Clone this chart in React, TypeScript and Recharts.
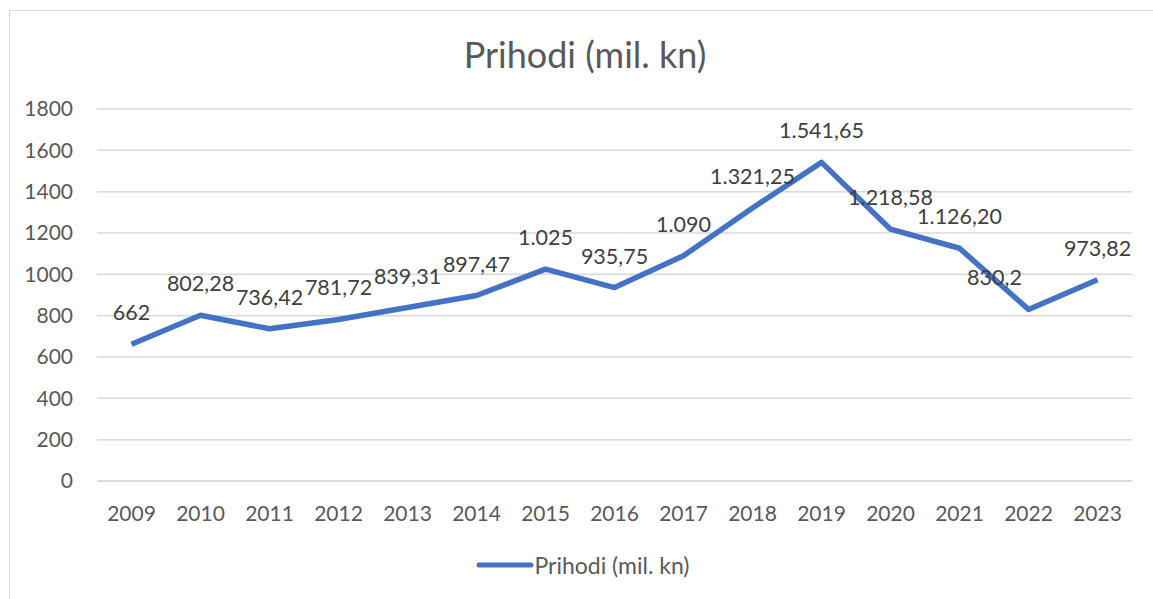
import { LineChart, Line, XAxis, YAxis, CartesianGrid, Legend } from 'recharts'

const years = ['2009', '2010', '2011', '2012', '2013', '2014', '2015', '2016', '2017', '2018', '2019', '2020', '2021', '2022', '2023']
const prihodi = [662, 802.28, 736.42, 781.72, 839.31, 897.47, 1025, 935.75, 1090, 1321.25, 1541.65, 1218.58, 1126.2, 830.2, 973.82]
const labels = ['662', '802,28', '736,42', '781,72', '839,31', '897,47', '1.025', '935,75', '1.090', '1.321,25', '1.541,65', '1.218,58', '1.126,20', '830,2', '973,82']
const yTicks = [0, 200, 400, 600, 800, 1000, 1200, 1400, 1600, 1800]

const data = years.map((g, i) => ({ godina: g, prihodi: prihodi[i] }))

const font = 'Lato, "Open Sans", sans-serif'
const blue = '#4472C4'

function PointLabel(props: any) {
  const { x, y, index } = props
  // Excel pushed the 2022 label to the left of its point
  const dx = index === 13 ? -34 : 0
  return (
    <text x={x + dx} y={y - 24} textAnchor="middle" fill="#404040" fontSize={21.5} fontFamily={font}>
      {labels[index]}
    </text>
  )
}

function LegendBox() {
  return (
    <div style={{ display: 'flex', justifyContent: 'center', alignItems: 'center', fontFamily: font, fontSize: 23, color: '#595959', marginLeft: 34 }}>
      <svg width={58} height={10}>
        <line x1={3} y1={5} x2={55} y2={5} stroke={blue} strokeWidth={5} strokeLinecap="round" />
      </svg>
      <span>Prihodi (mil. kn)</span>
    </div>
  )
}

export default function App() {
  return (
    <div style={{ position: 'fixed', left: 0, top: 0, width: 1153, height: 599, overflow: 'hidden', background: '#fff' }}>
      <div style={{ position: 'absolute', left: 9, top: 10, width: 1160, height: 620, border: '1.5px solid #d9d9d9', boxSizing: 'border-box' }} />
      <div style={{ position: 'absolute', left: 0, top: 32, width: 1170, textAlign: 'center', fontFamily: font, fontSize: 36, color: '#595959' }}>
        Prihodi (mil. kn)
      </div>
      <div style={{ position: 'absolute', left: 0, top: 0 }}>
        <LineChart width={1153} height={599} data={data} margin={{ top: 109, right: 21, left: 0, bottom: 0 }}>
          <CartesianGrid vertical={false} stroke="#d9d9d9" strokeWidth={1.5} />
          <XAxis
            dataKey="godina"
            padding={{ left: 34.5, right: 34.5 }}
            axisLine={{ stroke: '#d9d9d9', strokeWidth: 1.5 }}
            tickLine={false}
            tickMargin={19}
            height={70}
            tick={{ fill: '#595959', fontSize: 21, fontFamily: font }}
          />
          <YAxis
            domain={[0, 1800]}
            ticks={yTicks}
            width={97}
            axisLine={false}
            tickLine={false}
            tickMargin={18}
            tick={{ fill: '#595959', fontSize: 21, fontFamily: font }}
          />
          <Legend verticalAlign="bottom" height={48} content={<LegendBox />} />
          <Line
            type="linear"
            dataKey="prihodi"
            name="Prihodi (mil. kn)"
            stroke={blue}
            strokeWidth={5.5}
            strokeLinejoin="round"
            dot={false}
            activeDot={false}
            label={<PointLabel />}
            isAnimationActive={false}
          />
        </LineChart>
      </div>
    </div>
  )
}
